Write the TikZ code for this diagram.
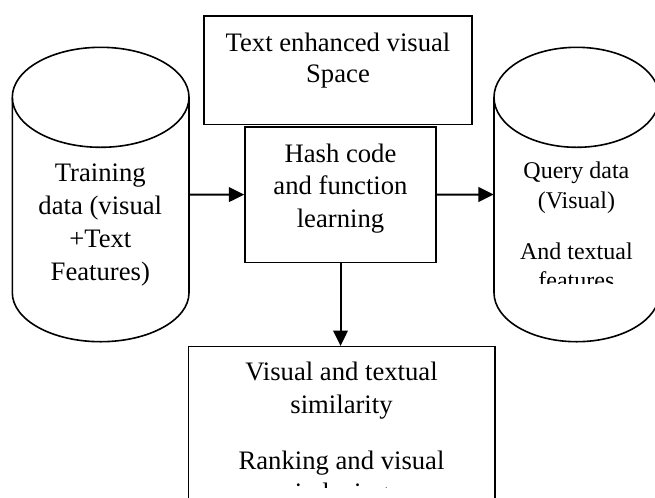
\documentclass[tikz,border=0pt]{standalone}
\usepackage{fontspec}
\setmainfont{Liberation Serif}
\usetikzlibrary{arrows.meta}

\tikzset{
  block/.style={draw, line width=1.2pt, inner sep=0pt},
  drum/.style={line width=1.2pt},
  hold/.style={inner sep=0pt},
  txt/.style={align=center, anchor=base, inner sep=0pt, font=\fontsize{20}{24.3}\selectfont},
  smalltxt/.style={txt, font=\fontsize{18}{22}\selectfont},
  flow/.style={line width=1.5pt, -{Triangle[length=11.5pt,width=11pt]}}
}

\begin{document}
\begin{tikzpicture}[x=0.75pt,y=-0.75pt]
	\useasboundingbox (0,0) rectangle (655,497);
	% boxes
	\node[block, minimum width=201pt, minimum height=81.6pt] (space) at (338,70.1) {};
	\node[block, minimum width=143.25pt, minimum height=101.85pt] (hash) at (340.5,194.6) {};
	\node[block, minimum width=230pt, minimum height=160pt] (result) at (341.7,453.3) {};
	% cylinders
	\node[hold, minimum width=132.5pt, minimum height=220.8pt] (train) at (100.65,194.5) {};
	\node[hold, minimum width=124pt, minimum height=220.8pt] (query) at (576.7,194.5) {};
	\draw[drum] (12.3,97.3) -- (12.3,292.7) arc[start angle=180, end angle=0, x radius=88.35, y radius=49] -- (189,97.3);
	\draw[drum] (100.65,97.3) ellipse[x radius=88.35, y radius=50];
	\draw[drum] (494,97.3) -- (494,292.7) arc[start angle=180, end angle=0, x radius=82.7, y radius=49] -- (659.4,97.3);
	\draw[drum] (576.7,97.3) ellipse[x radius=82.7, y radius=50];
	% texts (base = last line)
	\node[txt, font=\fontsize{20}{23.6}\selectfont] (spacetxt) at (338,82.9) {Text enhanced visual\\Space};
	\node[txt] (hashtxt) at (340.5,227.3) {Hash code\\and function\\learning};
	\node[txt, font=\fontsize{20}{24.7}\selectfont] (traintxt) at (100.3,280.5) {Training\\data (visual\\+Text\\Features)};
	\begin{scope}
		\clip (494,150) rectangle (660,283.3);
		\node[smalltxt] (querytxt) at (576.4,288.6) {Query data\\(Visual)\\[16.3pt]And textual\\features};
	\end{scope}
	\begin{scope}
		\clip (190,350) rectangle (494,487.5);
		\node[txt] (resulttxt) at (341.5,501.5) {Visual and textual\\similarity\\[17.7pt]Ranking and visual\\indexing};
	\end{scope}
	% arrows
	\draw[flow] (train.east) -- (hash.west);
	\draw[flow] (hash.east) -- (query.west);
	\draw[flow] (hash.south) -- (hash.south |- result.north);
\end{tikzpicture}
\end{document}
